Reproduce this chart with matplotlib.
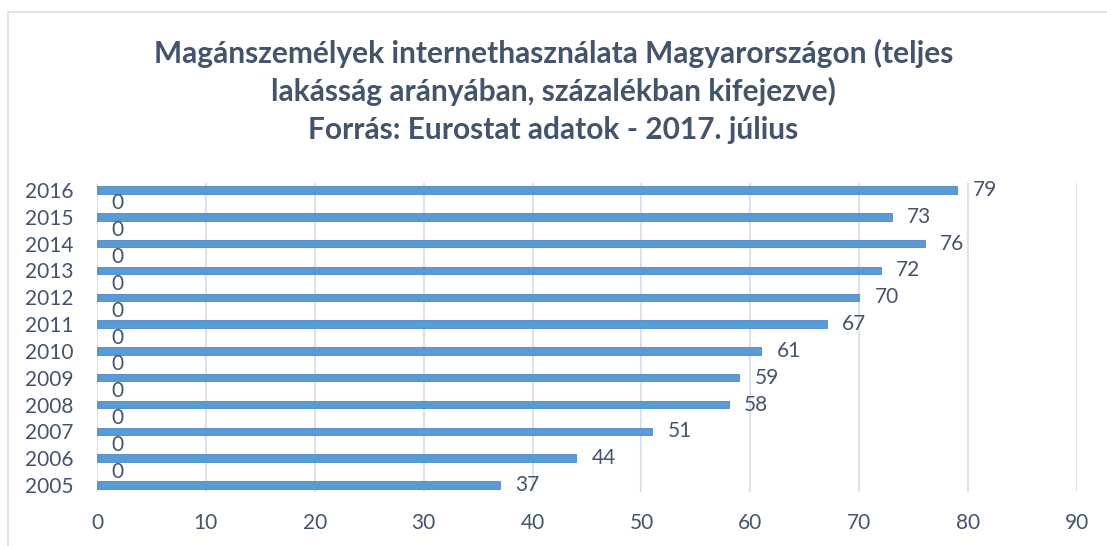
import matplotlib.pyplot as plt
from matplotlib.patches import Rectangle

# data
years = ['2005', '2006', '2007', '2008', '2009', '2010',
         '2011', '2012', '2013', '2014', '2015', '2016']
values = [37, 44, 51, 58, 59, 61, 67, 70, 72, 76, 73, 79]
zeros = [0, 0, 0, 0, 0, 0, 0, 0, 0, 0, 0]  # second series, only shows as "0" labels
xticks = [0, 10, 20, 30, 40, 50, 60, 70, 80, 90]

title = ('Magánszemélyek internethasználata Magyarországon (teljes\n'
         'lakásság arányában, százalékban kifejezve)\n'
         'Forrás: Eurostat adatok - 2017. július')

text_color = '#44546A'
bar_color = '#5B9BD5'
grid_color = '#DDE1E8'
font = ['Lato', 'DejaVu Sans']

plt.rcParams['font.family'] = font
fig = plt.figure(figsize=(11.07, 5.46), dpi=100, facecolor='white')

# outer chart border (only left/top visible in the crop)
fig.patches.append(Rectangle((8 / 1107, -0.1), 1.2, 1 - 12 / 546 + 0.1,
                             transform=fig.transFigure, fill=False,
                             edgecolor='#D9DDE4', linewidth=1.2))

ax = fig.add_axes([97 / 1107, 1 - 492 / 546, 980 / 1107, 309 / 546])

pos = list(range(len(years)))
ax.barh(pos, values, height=0.28, color=bar_color, edgecolor='#4A89C8',
        linewidth=0.6, zorder=3)
zpos = [p + 0.5 for p in pos[:len(zeros)]]
ax.barh(zpos, zeros, height=0.28, color=bar_color, zorder=3)

for p, v in zip(pos, values):
    ax.annotate(str(v), (v, p), xytext=(11, 0), textcoords='offset points',
                va='center', ha='left', fontsize=15, color=text_color)
for p, v in zip(zpos, zeros):
    ax.annotate(str(v), (v, p), xytext=(10.5, 0), textcoords='offset points',
                va='center', ha='left', fontsize=15, color=text_color)

ax.set_xlim(0, 90)
ax.set_ylim(-0.26, 11.26)
ax.set_xticks(xticks)
ax.set_yticks(pos)
ax.set_yticklabels(years)
ax.tick_params(axis='both', length=0, labelsize=15, labelcolor=text_color)
ax.tick_params(axis='y', pad=17)
ax.tick_params(axis='x', pad=15)
ax.grid(axis='x', color=grid_color, linewidth=1.5, zorder=0)
for s in ax.spines.values():
    s.set_visible(False)

fig.text(0.5, 1 - 91 / 546, title, ha='center', va='center',
         fontsize=21.5, fontweight='bold', color=text_color, linespacing=1.4)

fig.savefig('out.png', dpi=100, facecolor='white')
